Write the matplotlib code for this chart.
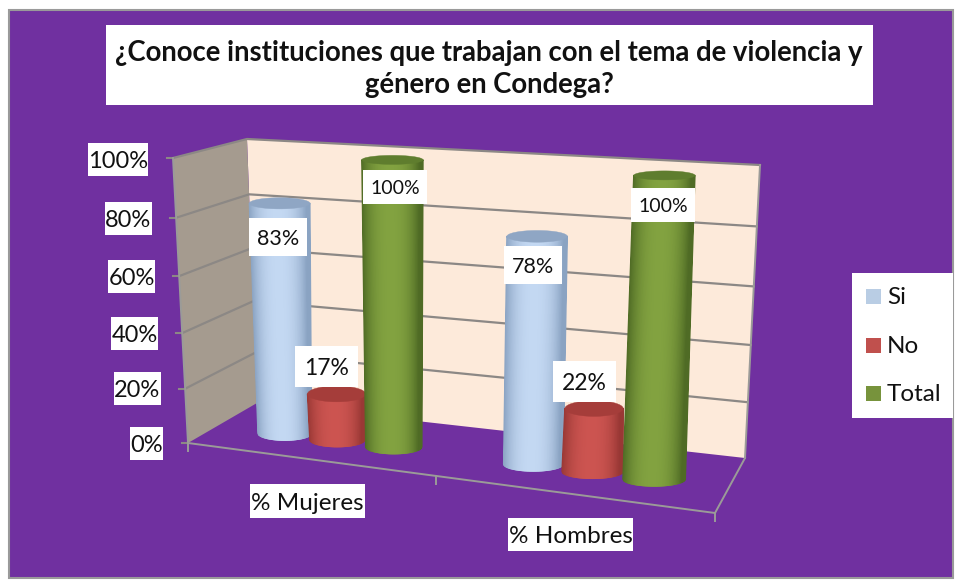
import numpy as np
import matplotlib
matplotlib.use('Agg')
import matplotlib.pyplot as plt
from matplotlib.collections import PolyCollection
from matplotlib.patches import Polygon, Rectangle

plt.rcParams['font.family'] = ['Lato', 'DejaVu Sans']

# datos
title = '¿Conoce instituciones que trabajan con el tema de violencia y\ngénero en Condega?'
categories = ['% Mujeres', '% Hombres']
series_names = ['Si', 'No', 'Total']
si = [83, 78]
no = [17, 22]
total = [100, 100]
y_ticks = [0, 20, 40, 60, 80, 100]

PURPLE = '#7030a0'
WALL = '#fdeada'
SIDE = '#a59b8f'
GRID = '#8c8885'
colors = {'Si': ('#c3d8f2', '#8aa3c2', '#8fa6c4', '#b9cde4'),
          'No': ('#cc5450', '#993835', '#a53d3a', '#c0504d'),
          'Total': ('#82a240', '#4f6b25', '#5f7d2e', '#77933c')}

# esquinas de la caja 3D en pixeles: (u, w, v) -> u derecha, w fondo, v altura
FL0, FL1 = np.array([188., 443.]), np.array([173., 158.])
BL0, BL1 = np.array([257., 403.]), np.array([247., 139.])
BR0, BR1 = np.array([745., 458.]), np.array([760., 165.])
FR0, FR1 = np.array([715., 513.]), np.array([737., 192.])


def proj(u, w, v):
    bottom = (1-u)*((1-w)*FL0 + w*BL0) + u*((1-w)*FR0 + w*BR0)
    top = (1-u)*((1-w)*FL1 + w*BL1) + u*((1-w)*FR1 + w*BR1)
    # perspectiva: las divisiones altas se ven algo mas grandes
    v = v - 0.06*v*(1-v)
    return bottom + (top-bottom)*v


def cylinder(ax, u, val, name, z):
    w = 0.45
    du0, du1 = 0.051 + 0.012*u, 0.0565
    v = val/100
    light, dark, cap, _ = colors[name]
    c0, c1 = proj(u, w, 0), proj(u, w, v)
    # los cilindros se inclinan menos que las paredes
    c1[0] = c0[0] + 0.72*(c1[0]-c0[0])
    r0 = (proj(u+du0, w, 0)-proj(u-du0, w, 0))[0]/2
    r1 = (proj(u+du1, w, v)-proj(u-du1, w, v))[0]/2
    b0, b1 = 7.0, 8 - 3.5*v**2
    ts = np.linspace(-1, 1, 81)
    polys, cols = [], []
    l, d = np.array(matplotlib.colors.to_rgb(light)), np.array(matplotlib.colors.to_rgb(dark))
    for t0, t1 in zip(ts[:-1], ts[1:]):
        tm = (t0+t1)/2
        quad = []
        for t in (t0, t1):
            quad.append([c0[0]+r0*t, c0[1]+b0*np.sqrt(1-t*t)])
        for t in (t1, t0):
            quad.append([c1[0]+r1*t, c1[1]+b1*np.sqrt(1-t*t)])
        polys.append(quad)
        s = min(abs(tm+0.05)/0.95, 1)**2.5
        cols.append(l*(1-s)+d*s)
    ax.add_collection(PolyCollection(polys, facecolors=cols, edgecolors=cols, linewidths=1.0, zorder=z))
    a = np.linspace(0, 2*np.pi, 80)
    ax.add_patch(Polygon(np.c_[c1[0]+r1*np.cos(a), c1[1]+b1*np.sin(a)], closed=True, fc=cap, ec=cap, lw=0.3, zorder=z+0.1))


def box_label(ax, text, x0, y0, x1, y1, size, **kw):
    ax.add_patch(Rectangle((x0, y0), x1-x0, y1-y0, fc='white', ec='none', zorder=20))
    ax.text((x0+x1)/2, (y0+y1)/2+2, text, ha='center', va='center', fontsize=size, color='#111111', zorder=21, **kw)


fig = plt.figure(figsize=(9.58, 5.8), dpi=100, facecolor='white')
ax = fig.add_axes([0, 0, 1, 1])
ax.set_xlim(0, 958)
ax.set_ylim(580, 0)
ax.axis('off')

ax.add_patch(Rectangle((9.5, 9.5), 944, 568, fc=PURPLE, ec='#9a9a9a', lw=1.5, zorder=0))

# paredes
ax.add_patch(Polygon([proj(0, 1, 0), proj(0, 1, 1), proj(1, 1, 1), proj(1, 1, 0)], fc=WALL, ec='none', zorder=1))
ax.add_patch(Polygon([proj(0, 0, 0), proj(0, 0, 1), proj(0, 1, 1), proj(0, 1, 0)], fc=SIDE, ec='none', zorder=1))

# rejilla y ejes
for t in y_ticks:
    v = t/100
    pts = np.array([proj(0, 0, v), proj(0, 1, v), proj(1, 1, v)])
    if t > 0:
        ax.plot(pts[:, 0], pts[:, 1], color=GRID, lw=1.6, zorder=2)
    ax.plot([pts[0, 0]-6, pts[0, 0]], [pts[0, 1], pts[0, 1]], color=GRID, lw=1.5, zorder=2)
edges = [[proj(0, 0, 0), proj(0, 0, 1)], [proj(1, 1, 0), proj(1, 1, 1)],
         [proj(0, 0, 0), proj(1, 0, 0)], [proj(1, 0, 0), proj(1, 1, 0)]]
for p, q in edges:
    ax.plot([p[0], q[0]], [p[1], q[1]], color='#9b9b98', lw=1.4, zorder=2)
for u in (0, 0.47, 1):
    p = proj(u, 0, 0)
    ax.plot([p[0], p[0]], [p[1], p[1]+8], color='#9b9b98', lw=1.4, zorder=2)

# cilindros
cyl_u = [[0.129, 0.232, 0.343], [0.617, 0.733, 0.854]]
z = 5
for i, us in enumerate(cyl_u):
    for j, (name, vals) in enumerate(zip(series_names, (si, no, total))):
        cylinder(ax, us[j], vals[i], name, z)
        z += 1

# etiquetas
tick_boxes = [(130, 427, 163, 460), (114, 372, 161, 405), (111, 317, 158, 350),
              (108, 260, 155, 293), (105, 202, 152, 235), (88, 143, 148, 176)]
for t, b in zip(y_ticks, tick_boxes):
    box_label(ax, f'{t}%', *b, 17)

data_boxes = {('Si', 0): (249, 218, 307, 256, 15.5), ('No', 0): (295, 346, 358, 387, 16.5), ('Total', 0): (363, 170, 427, 204, 14),
              ('Si', 1): (504, 246, 562, 284, 15.5), ('No', 1): (553, 361, 616, 402, 16.5), ('Total', 1): (631, 188, 695, 222, 14)}
for name, vals in zip(series_names, (si, no, total)):
    for i, val in enumerate(vals):
        b = data_boxes[(name, i)]
        box_label(ax, f'{val}%', *b[:4], b[4])

box_label(ax, categories[0], 250, 484, 365, 518, 17.5)
box_label(ax, categories[1], 508, 518, 633, 551, 17.5)

# titulo
ax.add_patch(Rectangle((106, 25), 767, 80, fc='white', ec='none', zorder=20))
ax.text(489, 69, title, ha='center', va='center', fontsize=19.8, fontweight='bold', color='#111111',
        linespacing=1.25, zorder=21)

# leyenda
ax.add_patch(Rectangle((852, 273), 101, 145, fc='white', ec='none', zorder=20))
for name, y in zip(series_names, (297.5, 346.5, 394.5)):
    ax.add_patch(Rectangle((866, y-8.5), 15, 15, fc=colors[name][3], ec='none', zorder=21))
    ax.text(887, y, name, ha='left', va='center', fontsize=17.5, color='#111111', zorder=21)

fig.savefig('out.png', dpi=100)
